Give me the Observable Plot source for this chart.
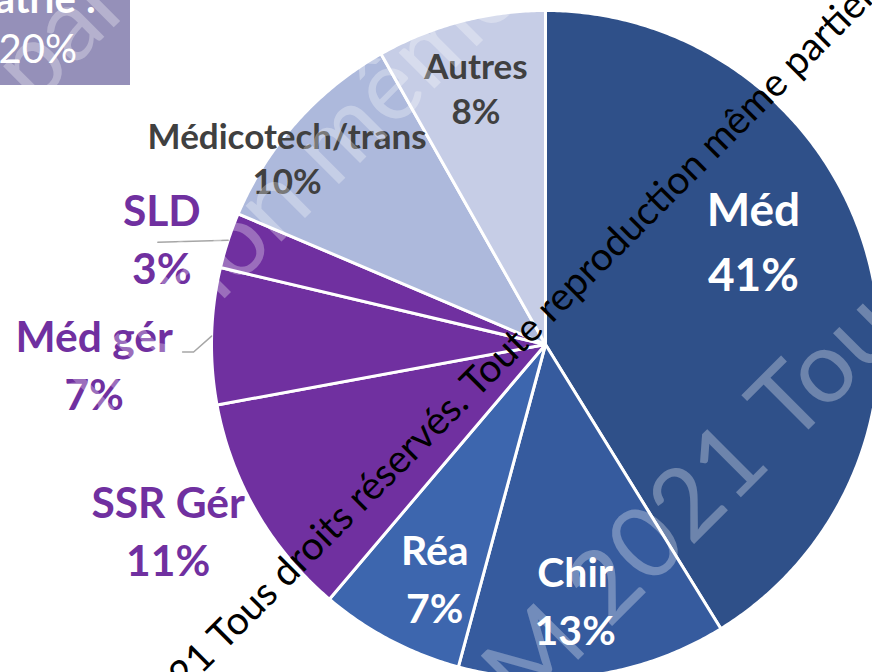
<!DOCTYPE html>
<html>
<head>
<meta charset="utf-8">
<script src="https://cdn.jsdelivr.net/npm/d3@7"></script>
<script src="https://cdn.jsdelivr.net/npm/@observablehq/plot@0.6"></script>
<style>
html, body { margin: 0; padding: 0; background: #fff; }
#chart { position: relative; width: 872px; height: 672px; overflow: hidden; }
#chart svg { position: absolute; left: 0; top: 0; }
</style>
</head>
<body>
<div id="chart"></div>
<script>
// ---- data ----
const categories = ["Méd", "Chir", "Réa", "SSR Gér", "Méd gér", "SLD", "Médicotech/trans", "Autres"];
const shares = [41.2, 13.0, 7.0, 10.9, 6.6, 2.7, 10.4, 8.2];
const sliceColors = ["#2F5089", "#365B9E", "#3D66AE", "#7030A0", "#7030A0", "#7030A0", "#ADB9DC", "#C6CDE6"];
const calloutTitle = "Gériatrie :";
const calloutValue = "20%";

// ---- layout ----
const W = 872, H = 672;
const CX = 545, CY = 344, R = 334;
const FONT = "Lato, 'Open Sans', sans-serif";

const rows = categories.map((category, i) => ({category, share: shares[i], pct: Math.round(shares[i]) + "%"}));
const arcs = d3.pie().sort(null).value(d => d.share)(rows);

// slice polygons in unit-circle coordinates
const polys = [];
arcs.forEach(a => {
  const cat = a.data.category;
  polys.push({cat, x: 0, y: 0});
  const n = Math.max(4, Math.ceil((a.endAngle - a.startAngle) / (Math.PI / 360)));
  for (let i = 0; i <= n; ++i) {
    const t = a.startAngle + (a.endAngle - a.startAngle) * i / n;
    polys.push({cat, x: Math.sin(t), y: Math.cos(t)});
  }
});

// label placement: mid-angle anchor plus pixel nudge
const labelLayout = {
  "Méd":              {frac: 0.70, dx: -17, dy: -43, group: "big"},
  "Chir":             {frac: 0.70, dx: -4,  dy: 22,  group: "inner"},
  "Réa":              {frac: 0.70, dx: -2,  dy: 24,  group: "inner"},
  "SSR Gér":          {frac: 1.25, dx: -16, dy: -25, group: "outer"},
  "Méd gér":          {frac: 1.25, dx: -34, dy: 28,  group: "outer"},
  "SLD":              {frac: 1.25, dx: 13,  dy: 22,  group: "outer"},
  "Médicotech/trans": {frac: 0.70, dx: -84, dy: -32, group: "light"},
  "Autres":           {frac: 0.70, dx: -10, dy: -31, group: "light"}
};
const toX = px => (px - CX) / R;
const toY = py => (CY - py) / R;
const labels = arcs.map(a => {
  const mid = (a.startAngle + a.endAngle) / 2;
  const L = labelLayout[a.data.category];
  const px = CX + L.frac * R * Math.sin(mid) + L.dx;
  const py = CY - L.frac * R * Math.cos(mid) + L.dy;
  return {cat: a.data.category, group: L.group, text: a.data.category + "\n" + a.data.pct,
          x: toX(px), y: toY(py), px, py, mid};
});

// leader lines for the two small outside labels
const leaders = [];
labels.forEach(l => {
  const ex = CX + R * Math.sin(l.mid), ey = CY - R * Math.cos(l.mid);
  if (l.cat === "SLD") {
    leaders.push({cat: l.cat, x: toX(ex), y: toY(ey)});
    leaders.push({cat: l.cat, x: toX(l.px - 4), y: toY(ey + 2)});
  } else if (l.cat === "Méd gér") {
    leaders.push({cat: l.cat, x: toX(ex), y: toY(ey)});
    leaders.push({cat: l.cat, x: toX(ex - 18), y: toY(l.py - 10)});
    leaders.push({cat: l.cat, x: toX(ex - 29), y: toY(l.py - 10)});
  }
});

const textBase = {x: "x", y: "y", text: "text", fontFamily: FONT, fontWeight: "bold", textAnchor: "middle"};

const plot = Plot.plot({
  width: W, height: H,
  margin: 0, marginTop: 0, marginRight: 0, marginBottom: 0, marginLeft: 0,
  style: {background: "transparent", fontFamily: FONT},
  x: {domain: [toX(0), toX(W)], axis: null},
  y: {domain: [toY(H), toY(0)], axis: null},
  color: {domain: categories, range: sliceColors},
  marks: [
    Plot.line(polys, {x: "x", y: "y", z: "cat", fill: "cat", stroke: "white", strokeWidth: 3,
                      strokeLinejoin: "round", curve: "linear-closed"}),
    Plot.line(leaders, {x: "x", y: "y", z: "cat", stroke: "#A6A6A6", strokeWidth: 1.5}),
    Plot.text(labels.filter(d => d.group === "big"), {...textBase, fill: "white", fontSize: 46, lineHeight: 1.41}),
    Plot.text(labels.filter(d => d.group === "inner"), {...textBase, fill: "white", fontSize: 41, lineHeight: 1.41}),
    Plot.text(labels.filter(d => d.group === "outer"), {...textBase, fill: "#7030A0", fontSize: 42.5, lineHeight: 1.365}),
    Plot.text(labels.filter(d => d.group === "light"), {...textBase, fill: "#404040", fontSize: 35, lineHeight: 1.286})
  ]
});
document.getElementById("chart").appendChild(plot);

// ---- overlay: callout box and watermarks ----
const ov = d3.create("svg").attr("width", W).attr("height", H).style("pointer-events", "none");
ov.append("rect").attr("x", 0).attr("y", 0).attr("width", 130).attr("height", 85).attr("fill", "#9590B9");
ov.append("text").attr("x", 96).attr("y", 13).attr("text-anchor", "end")
  .attr("font-family", FONT).attr("font-weight", "bold").attr("font-size", 40).attr("fill", "white").text(calloutTitle);
ov.append("text").attr("x", 77).attr("y", 63).attr("text-anchor", "end")
  .attr("font-family", FONT).attr("font-size", 40).attr("fill", "white").text(calloutValue);

function wm(x, y, before, after, size, fill, opacity) {
  const g = ov.append("g").attr("transform", `translate(${x},${y}) rotate(-45)`)
    .attr("font-family", FONT).attr("font-size", size).attr("fill", fill).attr("fill-opacity", opacity);
  g.append("text").attr("text-anchor", "end").text(before.replace(/ $/, "\u00A0"));
  g.append("text").attr("text-anchor", "start").text(after);
}
wm(791, 447, "©M 2021 ", "Tous droits réservés. Toute reproduction même partielle interdite", 100, "white", 0.3);
wm(334, 189, "Tous droits réservés. Toute reproduction ", "même partielle interdite", 100, "white", 0.3);
wm(34, 107, "reproduction même ", "partielle interdite", 100, "white", 0.3);
wm(224, 652, "© 2021 ", "Tous droits réservés. Toute reproduction même partielle interdite.", 39, "black", 1);
document.getElementById("chart").appendChild(ov.node());
</script>
</body>
</html>
